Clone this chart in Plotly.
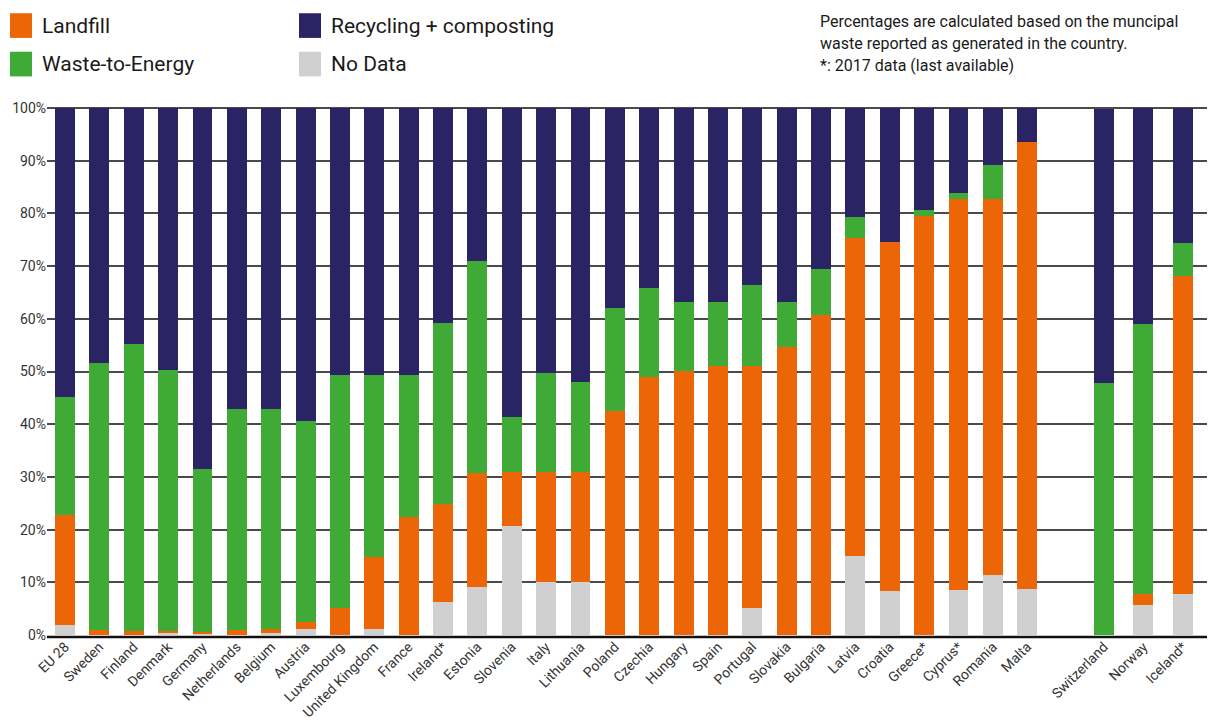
import plotly.graph_objects as go

# Municipal waste treatment shares (% of waste generated)
eu_countries = [
    "EU 28", "Sweden", "Finland", "Denmark", "Germany", "Netherlands",
    "Belgium", "Austria", "Luxembourg", "United Kingdom", "France",
    "Ireland*", "Estonia", "Slovenia", "Italy", "Lithuania", "Poland",
    "Czechia", "Hungary", "Spain", "Portugal", "Slovakia", "Bulgaria",
    "Latvia", "Croatia", "Greece*", "Cyprus*", "Romania", "Malta",
]
eu_no_data = [1.9, 0, 0, 0.3, 0.3, 0, 0.3, 1.2, 0, 1.2, 0, 6.2, 9.2, 20.6,
              10.1, 10.1, 0, 0, 0, 0, 5.1, 0, 0, 15.0, 8.3, 0, 8.6, 11.4, 8.8]
eu_landfill = [20.8, 0.9, 0.8, 0.4, 0.3, 1.0, 0.8, 1.3, 5.1, 13.6, 22.3,
               18.6, 21.6, 10.3, 20.8, 20.8, 42.6, 48.9, 50.1, 51.1, 46.0,
               54.6, 60.8, 60.4, 66.3, 79.6, 74.1, 71.3, 84.8]
eu_wte = [22.5, 50.7, 54.5, 49.6, 30.9, 41.9, 41.8, 38.2, 44.2, 34.5, 27.0,
          34.5, 40.1, 10.5, 18.8, 17.1, 19.5, 16.9, 13.1, 12.1, 15.3, 8.6,
          8.6, 3.9, 0, 1.0, 1.1, 6.4, 0]
eu_recycling = [54.8, 48.4, 44.7, 49.7, 68.5, 57.1, 57.1, 59.3, 50.7, 50.7,
                50.7, 40.7, 29.1, 58.6, 50.3, 52.0, 37.9, 34.2, 36.8, 36.8,
                33.6, 36.8, 30.6, 20.7, 25.4, 19.4, 16.2, 10.9, 6.4]

other_countries = ["Switzerland", "Norway", "Iceland*"]
other_no_data = [0, 5.6, 7.7]
other_landfill = [0, 2.1, 60.4]
other_wte = [47.8, 51.4, 6.2]
other_recycling = [52.0, 40.9, 25.7]

y_tick_values = [0, 10, 20, 30, 40, 50, 60, 70, 80, 90, 100]
y_tick_labels = ["0%", "10%", "20%", "30%", "40%", "50%", "60%", "70%",
                 "80%", "90%", "100%"]

series_names = ["No Data", "Landfill", "Waste-to-Energy", "Recycling + composting"]
series_colors = ["#D0D0D0", "#EC6608", "#3FAA36", "#2A2464"]
eu_series = [eu_no_data, eu_landfill, eu_wte, eu_recycling]
other_series = [other_no_data, other_landfill, other_wte, other_recycling]

note_lines = [
    "Percentages are calculated based on the muncipal",
    "waste reported as generated in the country.",
    "*: 2017 data (last available)",
]

FONT = "Roboto"
W, H = 1211, 724
ML, MR, MT, MB = 47, 4, 107, 82
PW, PH = W - ML - MR, H - MT - MB


def px_x(px):
    return (px - ML) / PW


def px_y(py):
    return (H - MB - py) / PH


fig = go.Figure()
for name, color, eu_vals, other_vals in zip(series_names, series_colors,
                                             eu_series, other_series):
    fig.add_trace(go.Bar(x=eu_countries, y=eu_vals, name=name,
                         marker=dict(color=color, line=dict(width=0)),
                         width=0.58, xaxis="x", yaxis="y", showlegend=False))
    fig.add_trace(go.Bar(x=other_countries, y=other_vals, name=name,
                         marker=dict(color=color, line=dict(width=0)),
                         width=0.506, xaxis="x2", yaxis="y", showlegend=False))

split = px_x(1065)
tickfont = dict(family=FONT, size=14, color="#333333")

fig.update_layout(
    width=W, height=H,
    margin=dict(l=ML, r=MR, t=MT, b=MB),
    paper_bgcolor="white", plot_bgcolor="white",
    barmode="stack",
    font=dict(family=FONT, color="#222222"),
    xaxis=dict(domain=[0, split], type="category",
               range=[-0.524, 29.10], tickangle=-45, tickfont=tickfont,
               showgrid=False, showline=False, zeroline=False, ticks=""),
    xaxis2=dict(domain=[split, 1], type="category", anchor="y",
                range=[-0.987, 2.61], tickangle=-45, tickfont=tickfont,
                showgrid=False, showline=False, zeroline=False, ticks=""),
    yaxis=dict(range=[0, 100.2], tickmode="array", tickvals=y_tick_values,
               ticktext=y_tick_labels, tickfont=tickfont, showgrid=True,
               gridcolor="#4a4a4a", gridwidth=1.5, zeroline=False,
               showline=False, ticks=""),
)

# baseline under the bars
fig.add_shape(type="line", xref="paper", yref="paper",
              x0=0, x1=1, y0=px_y(644), y1=px_y(644),
              line=dict(color="#111111", width=2.5), layer="above")

# legend: coloured squares with labels
legend_items = [
    ("Landfill", "#EC6608", 10, 12),
    ("Waste-to-Energy", "#3FAA36", 10, 51),
    ("Recycling + composting", "#2A2464", 299, 12),
    ("No Data", "#D0D0D0", 299, 51),
]
for label, color, lx, ly in legend_items:
    fig.add_shape(type="rect", xref="paper", yref="paper",
                  x0=px_x(lx), x1=px_x(lx + 22),
                  y0=px_y(ly + 25), y1=px_y(ly),
                  fillcolor=color, line=dict(width=0))
    fig.add_annotation(xref="paper", yref="paper",
                       x=px_x(lx + 30), y=px_y(ly + 12.5),
                       text=label, showarrow=False,
                       xanchor="left", yanchor="middle",
                       font=dict(family=FONT, size=21, color="#1a1a1a"))

for i, line in enumerate(note_lines):
    fig.add_annotation(xref="paper", yref="paper",
                       x=px_x(818), y=px_y(20 + 22.5 * i),
                       text=line, showarrow=False,
                       xanchor="left", yanchor="middle",
                       font=dict(family=FONT, size=16, color="#1a1a1a"))

fig.write_html("out.html")
